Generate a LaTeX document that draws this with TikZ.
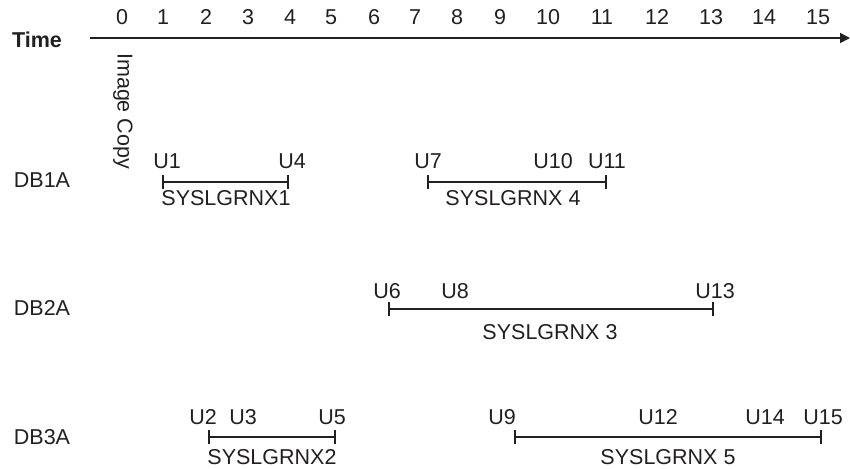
\documentclass[tikz,border=0pt]{standalone}
\usepackage{fontspec}
\setmainfont{Liberation Sans}
\usetikzlibrary{arrows.meta}
\definecolor{ink}{HTML}{231F20}
\begin{document}
\begin{tikzpicture}[x=1pt,y=-1pt,
  txt/.style={inner sep=0pt,font=\fontsize{21.5}{24}\selectfont,text=ink},
  span/.style={draw=ink,line width=1.8pt,{Bar[width=14pt,line width=1.8pt]}-{Bar[width=14pt,line width=1.8pt]}},
  axis/.style={draw=ink,line width=1.8pt,-{Triangle[length=10pt,width=10pt]}}]
\useasboundingbox (0,0) rectangle (850,468);
% time axis
\node[txt,font=\fontsize{21.5}{24}\selectfont\bfseries] (time) at (37,40) {Time};
\coordinate (a0) at (90,38);
\coordinate (a1) at (850,38);
\draw[axis] (a0) -- (a1);
\foreach \n/\x in {0/122,1/163,2/206,3/248,4/290,5/331,6/374,7/415,8/457,9/500,10/548,11/602,12/657,13/711,14/764,15/818}
  \node[txt] (t\n) at (\x,17) {\n};
\node[txt,rotate=-90,anchor=west] (img) at (123,53) {Image Copy};
% row labels
\node[txt] (db1) at (42,180) {DB1A};
\node[txt] (db2) at (42,308) {DB2A};
\node[txt] (db3) at (42,437) {DB3A};
% DB1A
\coordinate (s1a) at (162,182); \coordinate (s1b) at (289,182);
\draw[span] (s1a) -- (s1b);
\node[txt] (u1) at (167,161) {U1};
\node[txt] (u4) at (292,161) {U4};
\node[txt] (g1) at (226,198) {SYSLGRNX1};
\coordinate (s4a) at (427,182); \coordinate (s4b) at (607,182);
\draw[span] (s4a) -- (s4b);
\node[txt] (u7) at (428,161) {U7};
\node[txt] (u10) at (553,161) {U10};
\node[txt] (u11) at (607,161) {U11};
\node[txt] (g4) at (513,198) {SYSLGRNX 4};
% DB2A
\coordinate (s3a) at (388,309); \coordinate (s3b) at (714,309);
\draw[span] (s3a) -- (s3b);
\node[txt] (u6) at (387,291) {U6};
\node[txt] (u8) at (455,291) {U8};
\node[txt] (u13) at (715,291) {U13};
\node[txt] (g3) at (550,332) {SYSLGRNX 3};
% DB3A
\coordinate (s2a) at (208,437); \coordinate (s2b) at (336,437);
\draw[span] (s2a) -- (s2b);
\node[txt] (u2) at (203,417) {U2};
\node[txt] (u3) at (243,417) {U3};
\node[txt] (u5) at (332,417) {U5};
\node[txt] (g2) at (272,457) {SYSLGRNX2};
\coordinate (s5a) at (514,437); \coordinate (s5b) at (822,437);
\draw[span] (s5a) -- (s5b);
\node[txt] (u9) at (502,417) {U9};
\node[txt] (u12) at (658,417) {U12};
\node[txt] (u14) at (765,417) {U14};
\node[txt] (u15) at (823,417) {U15};
\node[txt] (g5) at (668,457) {SYSLGRNX 5};
\end{tikzpicture}
\end{document}
